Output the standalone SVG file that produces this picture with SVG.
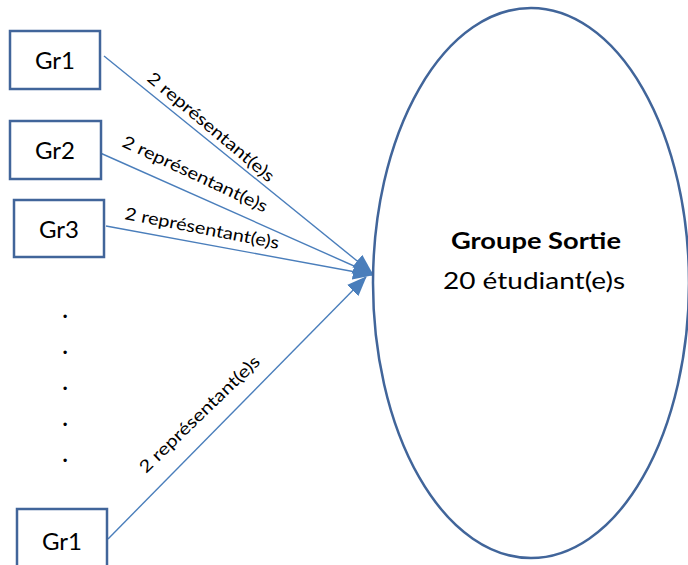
<svg xmlns="http://www.w3.org/2000/svg" width="688" height="565" viewBox="0 0 688 565">
<style>
.box{fill:#fff;stroke:#41659a;stroke-width:2.5}
.bt{font-family:Lato,"Open Sans",sans-serif;font-size:24px;fill:#000;text-anchor:middle}
.lbl{font-family:Lato,"Open Sans",sans-serif;font-size:17px;fill:#000}
.conn{stroke:#4a7ebb;stroke-width:1.4;fill:none;marker-end:url(#ah)}
.dot{font-family:Lato,"Open Sans",sans-serif;font-size:22px;font-weight:bold;fill:#000;text-anchor:middle}
</style>
<defs>
<marker id="ah" markerUnits="userSpaceOnUse" markerWidth="20" markerHeight="16" viewBox="0 0 20 16" refX="19" refY="8" orient="auto">
<path d="M0,0 L20,8 L0,16 Z" fill="#4a7ebb"/>
</marker>
</defs>
<rect width="688" height="565" fill="#fff"/>
<g id="connectors">
<line class="conn" x1="104" y1="56" x2="372" y2="273"/>
<line class="conn" x1="98" y1="152" x2="372" y2="274"/>
<line class="conn" x1="106" y1="226" x2="372" y2="275"/>
<line class="conn" x1="108" y1="539" x2="366" y2="277"/>
<text class="lbl" transform="translate(146,80) rotate(40)" textLength="160" lengthAdjust="spacingAndGlyphs">2 représentant(e)s</text>
<text class="lbl" transform="translate(121,146) rotate(25)" textLength="158" lengthAdjust="spacingAndGlyphs">2 représentant(e)s</text>
<text class="lbl" transform="translate(124,219) rotate(11)" textLength="157" lengthAdjust="spacingAndGlyphs">2 représentant(e)s</text>
<text class="lbl" transform="translate(146,474) rotate(-44)" textLength="160" lengthAdjust="spacingAndGlyphs">2 représentant(e)s</text>
</g>
<g id="gr1"><rect class="box" x="10" y="31" width="90" height="58"/><text class="bt" x="55" y="69">Gr1</text></g>
<g id="gr2"><rect class="box" x="10" y="121" width="91" height="58"/><text class="bt" x="55" y="159">Gr2</text></g>
<g id="gr3"><rect class="box" x="14" y="200" width="90" height="57"/><text class="bt" x="59" y="238">Gr3</text></g>
<g id="dots">
<text class="dot" x="65" y="318">.</text>
<text class="dot" x="65" y="354">.</text>
<text class="dot" x="65" y="390">.</text>
<text class="dot" x="65" y="426">.</text>
<text class="dot" x="65" y="462">.</text>
</g>
<g id="gr1b"><rect class="box" x="17" y="509" width="90" height="70"/><text class="bt" x="62" y="550">Gr1</text></g>
<g id="sortie">
<ellipse cx="531" cy="283" rx="158" ry="275" fill="#fff" stroke="#41659a" stroke-width="2.5"/>
<text x="536" y="249" font-family="Lato,'Open Sans',sans-serif" font-size="23" font-weight="bold" text-anchor="middle" textLength="170" lengthAdjust="spacingAndGlyphs">Groupe Sortie</text>
<text x="534" y="289" font-family="Lato,'Open Sans',sans-serif" font-size="24" text-anchor="middle" textLength="182" lengthAdjust="spacingAndGlyphs">20 étudiant(e)s</text>
</g>
</svg>
